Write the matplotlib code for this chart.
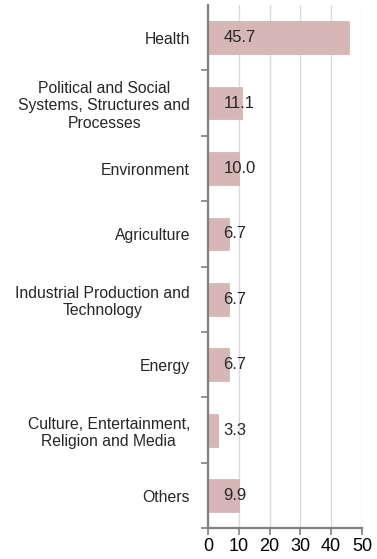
import matplotlib.pyplot as plt
from matplotlib.ticker import FixedLocator

plt.rcParams['font.family'] = ['Liberation Sans', 'DejaVu Sans']

categories = [
    'Health',
    'Political and Social\nSystems, Structures and\nProcesses',
    'Environment',
    'Agriculture',
    'Industrial Production and\nTechnology',
    'Energy',
    'Culture, Entertainment,\nReligion and Media',
    'Others',
]
values = [45.7, 11.1, 10.0, 6.7, 6.7, 6.7, 3.3, 9.9]
labels = ['45.7', '11.1', '10.0', '6.7', '6.7', '6.7', '3.3', '9.9']

fig = plt.figure(figsize=(3.77, 5.59), dpi=100)
ax = fig.add_axes([0.552, 0.055, 0.408, 0.936])

pos = list(range(len(categories)))
ax.barh(pos, values, height=0.5, color='#d7b6b6', edgecolor='#d2afaf', linewidth=0.5, zorder=2)
for p, v, t in zip(pos, values, labels):
    ax.annotate(t, xy=(0, p), xytext=(11, 0), textcoords='offset points',
                ha='left', va='center', fontsize=12, color='#262626', zorder=3)

ax.set_ylim(len(categories) - 0.5, -0.5)
ax.set_xlim(0, 50)
ax.set_xticks([0, 10, 20, 30, 40, 50])
ax.tick_params(axis='x', labelsize=13, length=5, width=1.2, color='#808080', pad=2)

ax.set_yticks(pos)
ax.set_yticklabels(categories, fontsize=11.3, multialignment='center', color='#262626')
ax.yaxis.set_minor_locator(FixedLocator([p + 0.5 for p in pos]))
ax.tick_params(axis='y', which='major', length=0, pad=13)
ax.tick_params(axis='y', which='minor', length=5, width=1.2, color='#808080')

ax.grid(axis='x', color='#d9d9d9', linewidth=1.0, zorder=0)
ax.set_axisbelow(True)
for s in ['top', 'right']:
    ax.spines[s].set_visible(False)
for s in ['left', 'bottom']:
    ax.spines[s].set_color('#808080')
    ax.spines[s].set_linewidth(1.6)

fig.savefig('out.png', dpi=100)
